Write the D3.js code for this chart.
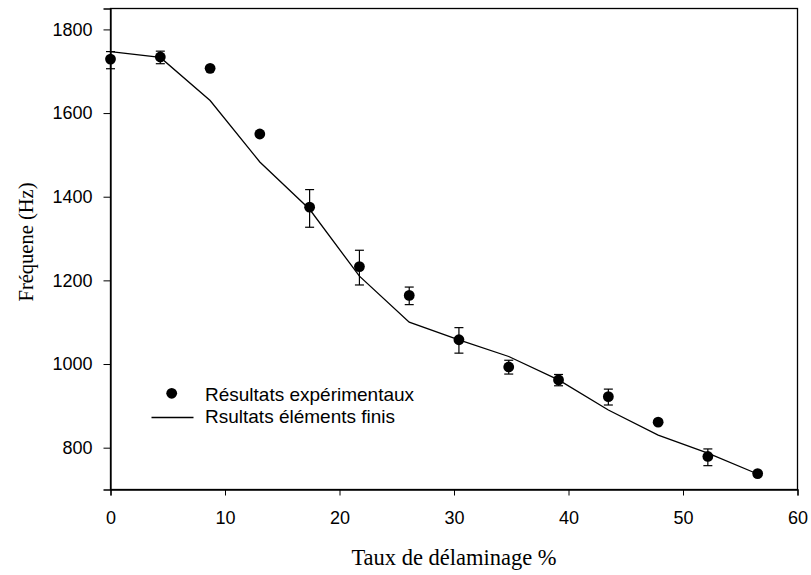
<!DOCTYPE html>
<html><head><meta charset="utf-8">
<script src="https://cdn.jsdelivr.net/npm/d3@7"></script>
<style>body{margin:0;background:#fff}</style>
</head><body>
<svg id="c" width="811" height="575"></svg>
<script>
// Experimental results
const expX = [0, 4.35, 8.7, 13.04, 17.39, 21.74, 26.09, 30.43, 34.78, 39.13, 43.48, 47.83, 52.17, 56.52];
const expY = [1729, 1734, 1707, 1550, 1375, 1233, 1164, 1058, 993, 962, 922, 861, 779, 738];
const errLo = [1706, 1718, 1707, 1550, 1327, 1189, 1142, 1026, 976, 948, 902, 861, 757, 734];
const errHi = [1747, 1748, 1707, 1550, 1417, 1272, 1184, 1087, 1009, 975, 940, 861, 797, 742];
// Finite element results
const feX = [0, 4.35, 8.7, 13.04, 17.39, 21.74, 26.09, 30.43, 34.78, 39.13, 43.48, 47.83, 52.17, 56.52];
const feY = [1747, 1733, 1630, 1483, 1370, 1210, 1100, 1058, 1018, 962, 890, 830, 787, 737];
const xTicks = [0, 10, 20, 30, 40, 50, 60];
const yTicks = [800, 1000, 1200, 1400, 1600, 1800];
const legendLabels = ["Résultats expérimentaux", "Rsultats éléments finis"];

const svg = d3.select("#c");
const L = 110.5, R = 797.5, T = 8.5, B = 489.5;
const x = d3.scaleLinear().domain([0, 60]).range([L, R]);
const y = d3.scaleLinear().domain([700, 1850]).range([B, T]);

const sans = "'Liberation Sans', Arial, sans-serif";
const serif = "'Liberation Serif', 'Times New Roman', serif";

// frame
svg.append("rect").attr("x", L).attr("y", T).attr("width", R - L).attr("height", B - T)
  .attr("fill", "none").attr("stroke", "#000").attr("stroke-width", 1.3);

const xa = svg.append("g").attr("transform", `translate(0,${B})`)
  .call(d3.axisBottom(x).tickValues(xTicks).tickSize(6).tickPadding(16).tickFormat(d3.format("d")));
const ya = svg.append("g").attr("transform", `translate(${L},0)`)
  .call(d3.axisLeft(y).tickValues(yTicks).tickSize(7).tickPadding(11).tickFormat(d3.format("d")));
[xa, ya].forEach(a => {
  a.select(".domain").attr("stroke", "#000").attr("stroke-width", 1.3);
  a.selectAll(".tick line").attr("stroke", "#000").attr("stroke-width", 1);
  a.selectAll("text").attr("font-family", sans).attr("font-size", 18).attr("fill", "#000");
});

// FE line
const line = d3.line().x((d, i) => x(feX[i])).y(d => y(d));
svg.append("path").datum(feY).attr("d", line).attr("fill", "none")
  .attr("stroke", "#000").attr("stroke-width", 1.3);

// error bars
const eg = svg.append("g").attr("stroke", "#000").attr("stroke-width", 1.2);
expX.forEach((xv, i) => {
  if (errHi[i] - errLo[i] < 1) return;
  const cx = x(xv);
  eg.append("line").attr("x1", cx).attr("x2", cx).attr("y1", y(errLo[i])).attr("y2", y(errHi[i]));
  eg.append("line").attr("x1", cx - 4.5).attr("x2", cx + 4.5).attr("y1", y(errLo[i])).attr("y2", y(errLo[i]));
  eg.append("line").attr("x1", cx - 4.5).attr("x2", cx + 4.5).attr("y1", y(errHi[i])).attr("y2", y(errHi[i]));
});

// points
svg.append("g").selectAll("circle").data(expY).join("circle")
  .attr("cx", (d, i) => x(expX[i])).attr("cy", d => y(d)).attr("r", 5.4).attr("fill", "#000");

// legend
svg.append("circle").attr("cx", 171.7).attr("cy", 393.3).attr("r", 5.4).attr("fill", "#000");
svg.append("line").attr("x1", 151.5).attr("x2", 193.5).attr("y1", 417.5).attr("y2", 417.5)
  .attr("stroke", "#000").attr("stroke-width", 1.3);
svg.append("text").attr("x", 205).attr("y", 400.5).text(legendLabels[0])
  .attr("font-family", sans).attr("font-size", 19).attr("fill", "#000");
svg.append("text").attr("x", 205).attr("y", 422.5).text(legendLabels[1])
  .attr("font-family", sans).attr("font-size", 19).attr("fill", "#000");

// axis titles
svg.append("text").attr("x", (L + R) / 2).attr("y", 565).attr("text-anchor", "middle")
  .attr("font-family", serif).attr("font-size", 22.5).attr("fill", "#000").text("Taux de délaminage %");
svg.append("text").attr("transform", `translate(33,242) rotate(-90)`).attr("text-anchor", "middle")
  .attr("font-family", serif).attr("font-size", 20.5).attr("fill", "#000").text("Fréquene (Hz)");
</script>
</body></html>
